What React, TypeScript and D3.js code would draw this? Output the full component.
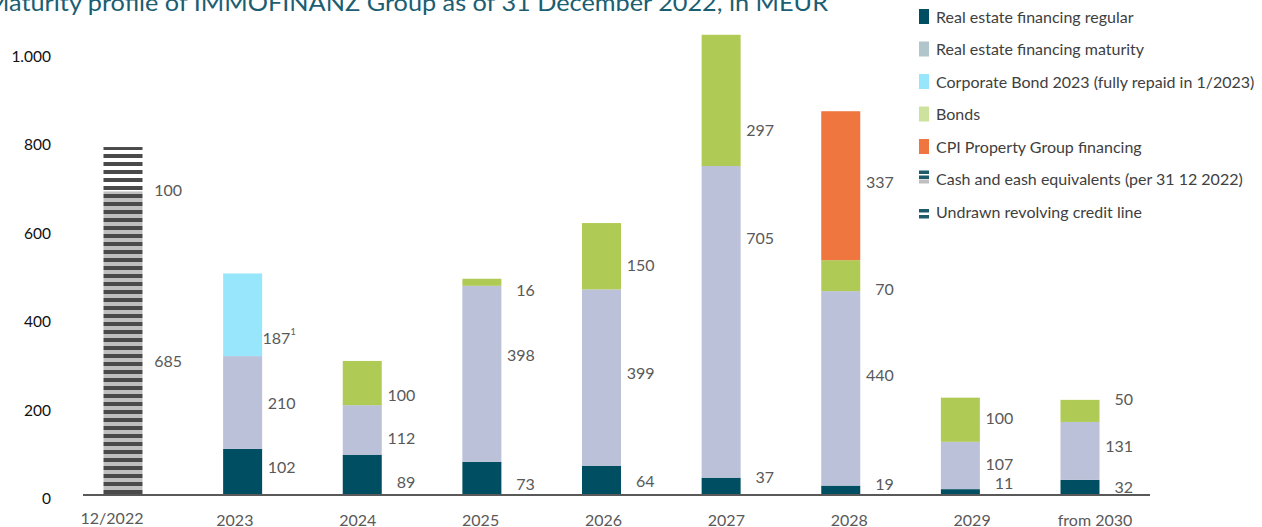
import React from "react";
import * as d3 from "d3";

// ---------- DATA ----------
const categories = ["12/2022", "2023", "2024", "2025", "2026", "2027", "2028", "2029", "from 2030"];
const regular = [0, 102, 89, 73, 64, 37, 19, 11, 32];
const maturity = [0, 210, 112, 398, 399, 705, 440, 107, 131];
const bonds = [0, 0, 100, 16, 150, 297, 70, 100, 50];
const corporateBond = [0, 187, 0, 0, 0, 0, 0, 0, 0];
const cpiFinancing = [0, 0, 0, 0, 0, 0, 337, 0, 0];
const cash = [685, 0, 0, 0, 0, 0, 0, 0, 0];
const undrawn = [100, 0, 0, 0, 0, 0, 0, 0, 0];
const yTicks = [0, 200, 400, 600, 800, 1000];
const title = "Maturity profile of IMMOFINANZ Group as of 31 December 2022, in MEUR";

// ---------- LAYOUT (label placement within segments, as fraction of segment) ----------
const labelFrac: Record<string, number[]> = {
  regular: [0, 0.6, 0.33, 0.31, 0.46, 1.1, 1.3, 2.3, 0.5],
  maturity: [0, 0.5, 0.34, 0.61, 0.53, 0.77, 0.57, 0.55, 0.6],
  bonds: [0, 0, 0.25, -0.56, 0.37, 0.28, 0.07, 0.56, 1.04],
  corporateBond: [0, 0.23, 0, 0, 0, 0, 0, 0, 0],
  cpiFinancing: [0, 0, 0, 0, 0, 0, 0.53, 0, 0],
  cash: [0.44, 0, 0, 0, 0, 0, 0, 0, 0],
  undrawn: [0.05, 0, 0, 0, 0, 0, 0, 0, 0],
};

type Series = { key: string; values: number[]; fill: string; legend: string; legendFill: string; footnote?: boolean };
const series: Series[] = [
  { key: "regular", values: regular, fill: "#004e62", legend: "Real estate financing regular", legendFill: "#004e62" },
  { key: "maturity", values: maturity, fill: "#bbc1d8", legend: "Real estate financing maturity", legendFill: "#b1c6cb" },
  { key: "bonds", values: bonds, fill: "#b0cb55", legend: "Bonds", legendFill: "#cde29c" },
  { key: "corporateBond", values: corporateBond, fill: "#98e6fc", legend: "Corporate Bond 2023 (fully repaid in 1/2023)", legendFill: "#98e6fc", footnote: true },
  { key: "cpiFinancing", values: cpiFinancing, fill: "#ef763e", legend: "CPI Property Group financing", legendFill: "#ef763e" },
  { key: "cash", values: cash, fill: "url(#cashPat)", legend: "Cash and eash equivalents (per 31 12 2022)", legendFill: "" },
  { key: "undrawn", values: undrawn, fill: "url(#undrawnPat)", legend: "Undrawn revolving credit line", legendFill: "" },
];
const legendOrder = ["regular", "maturity", "corporateBond", "bonds", "cpiFinancing", "cash", "undrawn"];

const FONT = "Lato, 'Open Sans', sans-serif";
const W = 1262, H = 527;

export default function App() {
  const y = d3.scaleLinear().domain([0, 1000]).range([494, 52]);
  const x = d3.scalePoint<string>().domain(categories).range([123, 1080]);
  const xLabel = d3.scalePoint<string>().domain(categories).range([112, 1095]);
  const barW = 39;

  const rows = categories.map((c, i) => {
    const r: Record<string, number | string> = { cat: c };
    series.forEach((s) => (r[s.key] = s.values[i]));
    return r;
  });
  const stacked = d3.stack<Record<string, number | string>>().keys(series.map((s) => s.key))(rows as any);

  return (
    <svg width={W} height={H} style={{ position: "absolute", left: 0, top: 0, background: "#fff" }} fontFamily={FONT}>
      <defs>
        <pattern id="cashPat" patternUnits="userSpaceOnUse" width={8} height={8} y={2}>
          <rect width={8} height={4} fill="#4a4a4a" />
          <rect y={4} width={8} height={4} fill="#bfbfbf" />
        </pattern>
        <pattern id="undrawnPat" patternUnits="userSpaceOnUse" width={8} height={8} y={2}>
          <rect width={8} height={4} fill="#4a4a4a" />
          <rect y={4} width={8} height={4} fill="#ffffff" />
        </pattern>
      </defs>

      {/* title */}
      <text x={828} y={11} textAnchor="end" fontSize={23} fill="#1b5e72" textLength={842} lengthAdjust="spacingAndGlyphs">
        {title}
      </text>

      {/* y tick labels */}
      {yTicks.map((t) => (
        <text key={t} x={51} y={y(t) + 4} textAnchor="end" dominantBaseline="central" fontSize={15.5} fill="#111">
          {d3.format(",")(t).replace(/,/g, ".")}
        </text>
      ))}

      {/* bars */}
      {stacked.map((layer, si) => (
        <g key={layer.key}>
          {layer.map((d, i) => {
            const v = d[1] - d[0];
            if (!v) return null;
            return (
              <rect
                key={i}
                x={(x(categories[i]) as number) - barW / 2}
                y={y(d[1])}
                width={barW}
                height={y(d[0]) - y(d[1])}
                fill={series[si].fill}
              />
            );
          })}
        </g>
      ))}

      {/* value labels */}
      {stacked.map((layer, si) => (
        <g key={"l" + layer.key}>
          {layer.map((d, i) => {
            const v = d[1] - d[0];
            if (!v) return null;
            const f = labelFrac[layer.key][i];
            const ly = y(d[0] + f * v);
            const cx = x(categories[i]) as number;
            return (
              <text key={i} x={cx + 53 + (i === 0 ? 6 : 0)} y={ly} textAnchor="end" dominantBaseline="central" fontSize={16} fill="#595959">
                {v}
                {series[si].footnote ? (
                  <tspan fontSize={9} dy={-6}>
                    1
                  </tspan>
                ) : null}
              </text>
            );
          })}
        </g>
      ))}

      {/* x axis */}
      <line x1={83} x2={1150} y1={495} y2={495} stroke="#222" strokeWidth={1.3} />
      {categories.map((c) => (
        <text key={c} x={xLabel(c) as number} y={c === "12/2022" ? 517 : 519} textAnchor="middle" dominantBaseline="central" fontSize={16} fill="#595959">
          {c}
        </text>
      ))}

      {/* legend */}
      {legendOrder.map((k, i) => {
        const s = series.find((q) => q.key === k)!;
        const cy = 16 + i * 32.5;
        let sw: React.ReactNode;
        if (k === "cash") {
          sw = (
            <g>
              <rect x={919} y={cy - 8} width={10} height={3.5} fill="#1d5a6b" />
              <rect x={919} y={cy - 3} width={10} height={3.5} fill="#1d5a6b" />
              <rect x={919} y={cy + 1} width={10} height={4} fill="#bfbfbf" />
            </g>
          );
        } else if (k === "undrawn") {
          sw = (
            <g>
              <rect x={919} y={cy - 2} width={10} height={3.5} fill="#1d5a6b" />
              <rect x={919} y={cy + 4} width={10} height={3.5} fill="#1d5a6b" />
            </g>
          );
        } else {
          sw = <rect x={919} y={cy - 7} width={10} height={15} fill={s.legendFill} />;
        }
        return (
          <g key={k}>
            {sw}
            <text x={936} y={cy} dominantBaseline="central" fontSize={16} fill="#404040">
              {s.legend}
            </text>
          </g>
        );
      })}
    </svg>
  );
}
